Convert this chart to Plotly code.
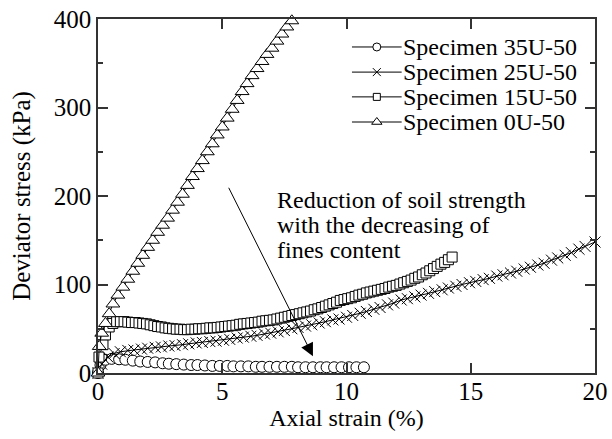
import plotly.graph_objects as go

# Specimen 35U-50
strain_35 = [0, 0.1, 0.3, 0.55, 0.85, 1.1, 1.4, 1.7, 2.0, 2.3, 2.6, 2.85, 3.15, 3.45,
             3.75, 4.0, 4.3, 4.6, 4.9, 5.2, 5.45, 5.75, 6.05, 6.35, 6.6, 6.9, 7.2, 7.5,
             7.8, 8.05, 8.35, 8.65, 8.95, 9.2, 9.5, 9.8, 10.1, 10.4, 10.7]
stress_35 = [0, 9, 15, 16, 15.5, 15, 14, 13, 12.5, 12, 11, 10.5, 10, 9.5,
             9, 9, 8.5, 8, 8, 8, 7.5, 7.5, 7.5, 7, 7, 7, 7, 7,
             7, 6.5, 6.5, 6.5, 6.5, 6.5, 6.5, 6.5, 6.5, 6.5, 6.5]

# Specimen 25U-50
strain_25 = [0, 0.15, 0.4, 0.65, 0.9, 1.2, 1.45, 1.75, 2.0, 2.3, 2.55, 2.85, 3.1, 3.4,
             3.65, 3.95, 4.2, 4.5, 4.75, 5.05, 5.3, 5.6, 5.85, 6.15, 6.4, 6.7, 6.95,
             7.25, 7.5, 7.8, 8.05, 8.35, 8.6, 8.9, 9.15, 9.45, 9.7, 10.0, 10.25, 10.55,
             10.8, 11.1, 11.35, 11.65, 11.9, 12.2, 12.45, 12.75, 13.0, 13.3, 13.55,
             13.85, 14.1, 14.4, 14.65, 14.95, 15.2, 15.5, 15.75, 16.05, 16.3, 16.6,
             16.85, 17.15, 17.4, 17.7, 17.95, 18.25, 18.5, 18.8, 19.05, 19.35, 19.6, 20.0]
stress_25 = [0, 10, 18, 22, 24, 25.5, 26, 27, 28, 29, 29.5, 30.5, 31, 32,
             33, 34, 34.5, 35.5, 36, 37, 38, 39.5, 40.5, 41.5, 42.5, 44, 45,
             46.5, 48, 50, 51.5, 53, 54.5, 56.5, 58, 60, 61, 63, 65, 67.5,
             69.5, 72, 74, 77, 79, 82.5, 84, 86, 88, 90, 92,
             94, 96, 98, 100, 102, 103.5, 105.5, 107, 109.5, 111, 113,
             115, 117.5, 119.5, 122, 124, 127.5, 130, 133, 136, 140, 143, 148]

# Specimen 15U-50
strain_15 = [0, 0.04, 0.2, 0.3, 0.45, 0.6, 0.75, 0.9, 1.05, 1.2, 1.35, 1.5, 1.65, 1.8,
             1.95, 2.1, 2.25, 2.4, 2.55, 2.7, 2.85, 3.0, 3.15, 3.3, 3.45, 3.6, 3.75,
             3.9, 4.05, 4.2, 4.35, 4.5, 4.65, 4.8, 4.95, 5.1, 5.25, 5.4, 5.55, 5.7,
             5.85, 6.0, 6.15, 6.3, 6.45, 6.6, 6.75, 6.9, 7.05, 7.2, 7.35, 7.5, 7.65,
             7.8, 7.95, 8.1, 8.25, 8.4, 8.55, 8.7, 8.85, 9.0, 9.15, 9.3, 9.45, 9.6,
             9.75, 9.9, 10.05, 10.2, 10.35, 10.5, 10.65, 10.8, 10.95, 11.1, 11.25,
             11.4, 11.55, 11.7, 11.85, 12.0, 12.15, 12.3, 12.45, 12.6, 12.75, 12.9,
             13.05, 13.2, 13.35, 13.5, 13.65, 13.8, 13.95, 14.1, 14.25]
stress_15 = [0, 18, 32, 43, 52, 56, 58, 58, 58, 57.5, 57, 57, 56.5, 56,
             55.5, 54.5, 53.5, 52.5, 52, 51, 50.5, 50, 49.5, 49.5, 49, 49, 49.5,
             49.5, 50, 50, 50.5, 51, 51, 51.5, 52, 52.5, 53, 53.5, 54, 55,
             55.5, 56, 56.5, 57, 57.5, 58.5, 59, 59.5, 60, 61, 62, 63, 64,
             65, 66, 67, 68, 69, 70, 71.5, 72.5, 74, 75.5, 77, 78.5, 80,
             82, 83, 84, 85, 86.5, 88, 89, 90.5, 91.5, 92.5, 93.5,
             94.5, 95.5, 97, 98, 99, 100.5, 102, 103.5, 105, 107, 108.5,
             111, 113, 115.5, 118, 120.5, 123, 125, 128, 131]

# Specimen 0U-50
strain_0 = [0, 0.05, 0.15, 0.3, 0.45, 0.6, 0.8, 1.0, 1.2, 1.4, 1.6, 1.8, 2.0, 2.2,
            2.4, 2.6, 2.8, 3.0, 3.2, 3.4, 3.6, 3.8, 4.0, 4.2, 4.4, 4.6, 4.8, 5.0,
            5.2, 5.4, 5.6, 5.8, 6.0, 6.2, 6.4, 6.6, 6.8, 7.0, 7.2, 7.4, 7.6, 7.8]
stress_0 = [0, 30, 45, 56, 67, 78, 88, 97, 106, 115, 124, 133, 142, 150,
            159, 167, 175, 184, 193, 202, 212, 222, 231, 240, 250, 259, 269, 278,
            288, 298, 308, 318, 327, 336, 344, 352, 360, 367, 375, 383, 391, 398]

series = [
    ("Specimen 35U-50", strain_35, stress_35, "circle", 11),
    ("Specimen 25U-50", strain_25, stress_25, "x-thin", 11),
    ("Specimen 15U-50", strain_15, stress_15, "square", 10),
    ("Specimen 0U-50", strain_0, stress_0, "triangle-up", 12),
]

FONT = "Liberation Serif, Times New Roman, Times, serif"
AXIS_COLOR = "#333333"

# Legend layout (fractions of the plotting area)
KEY_X0, KEY_XM, KEY_X1 = 0.511, 0.561, 0.611
KEY_TEXT_X = 0.610
KEY_ROWS = [0.921, 0.850, 0.780, 0.709]
LEGEND_FONT = 24


def marker_style(sym, size):
    if sym.startswith("x"):
        return dict(symbol=sym, size=size, color="black",
                    line=dict(color="black", width=1))
    return dict(symbol=sym, size=size, color="white",
                line=dict(color="black", width=1))


fig = go.Figure()
for name, xs, ys, sym, size in series:
    fig.add_trace(go.Scatter(
        x=xs, y=ys, name=name, mode="lines+markers",
        line=dict(color="black", width=1),
        marker=marker_style(sym, size),
        cliponaxis=False, showlegend=False,
    ))

# Legend keys on a hidden overlay axis spanning the plotting area
for (name, _, _, sym, size), ry in zip(series, KEY_ROWS):
    fig.add_trace(go.Scatter(
        x=[KEY_X0, KEY_X1], y=[ry, ry], mode="lines",
        line=dict(color="black", width=1),
        xaxis="x2", yaxis="y2", showlegend=False, hoverinfo="skip",
    ))
    fig.add_trace(go.Scatter(
        x=[KEY_XM], y=[ry], mode="markers",
        marker=marker_style(sym, size - 3),
        xaxis="x2", yaxis="y2", showlegend=False, hoverinfo="skip",
    ))
    fig.add_annotation(
        x=KEY_TEXT_X, y=ry, xref="paper", yref="paper",
        xanchor="left", yanchor="middle", showarrow=False, text=name,
        font=dict(family=FONT, size=LEGEND_FONT, color="black"),
    )

# Trend arrow and note
fig.add_annotation(
    x=8.65, y=19, ax=5.23, ay=211, xref="x", yref="y", axref="x", ayref="y",
    showarrow=True, arrowhead=2, arrowsize=2.6, arrowwidth=1, arrowcolor="black",
    text="",
)
note_lines = ["Reduction of soil strength", "with the decreasing of", "fines content"]
note_rows = [0.489, 0.418, 0.347]
for line, ry in zip(note_lines, note_rows):
    fig.add_annotation(
        x=0.357, y=ry, xref="paper", yref="paper", xanchor="left", yanchor="middle",
        showarrow=False, text=line,
        font=dict(family=FONT, size=24, color="black"),
    )

fig.update_layout(
    width=612, height=439,
    margin=dict(l=98, r=17, t=19, b=66),
    paper_bgcolor="white", plot_bgcolor="white",
    font=dict(family=FONT, color="black"),
    showlegend=False,
    xaxis=dict(
        range=[0, 20], tickvals=[0, 5, 10, 15, 20], automargin=False,
        showgrid=False, zeroline=False,
        showline=True, linecolor=AXIS_COLOR, linewidth=1.5, mirror="ticks",
        ticks="inside", ticklen=10, tickwidth=1.5, tickcolor=AXIS_COLOR,
        ticklabelstandoff=-5,
        tickfont=dict(family=FONT, size=25, color="black"),
        title=dict(text="Axial strain (%)", font=dict(family=FONT, size=24, color="black"),
                   standoff=0),
    ),
    yaxis=dict(
        range=[0, 400], tickvals=[0, 100, 200, 300, 400], automargin=False,
        showgrid=False, zeroline=False,
        showline=True, linecolor=AXIS_COLOR, linewidth=1.5, mirror="ticks",
        ticks="inside", ticklen=10, tickwidth=1.5, tickcolor=AXIS_COLOR,
        minor=dict(dtick=50, ticks="inside", ticklen=5, tickwidth=1.5, tickcolor=AXIS_COLOR),
        tickfont=dict(family=FONT, size=25, color="black"),
        title=dict(text="Deviator stress (kPa)", font=dict(family=FONT, size=25, color="black"),
                   standoff=16),
    ),
    xaxis2=dict(overlaying="x", range=[0, 1], visible=False, automargin=False),
    yaxis2=dict(overlaying="y", range=[0, 1], visible=False, automargin=False),
)

fig.write_html("out.html")
